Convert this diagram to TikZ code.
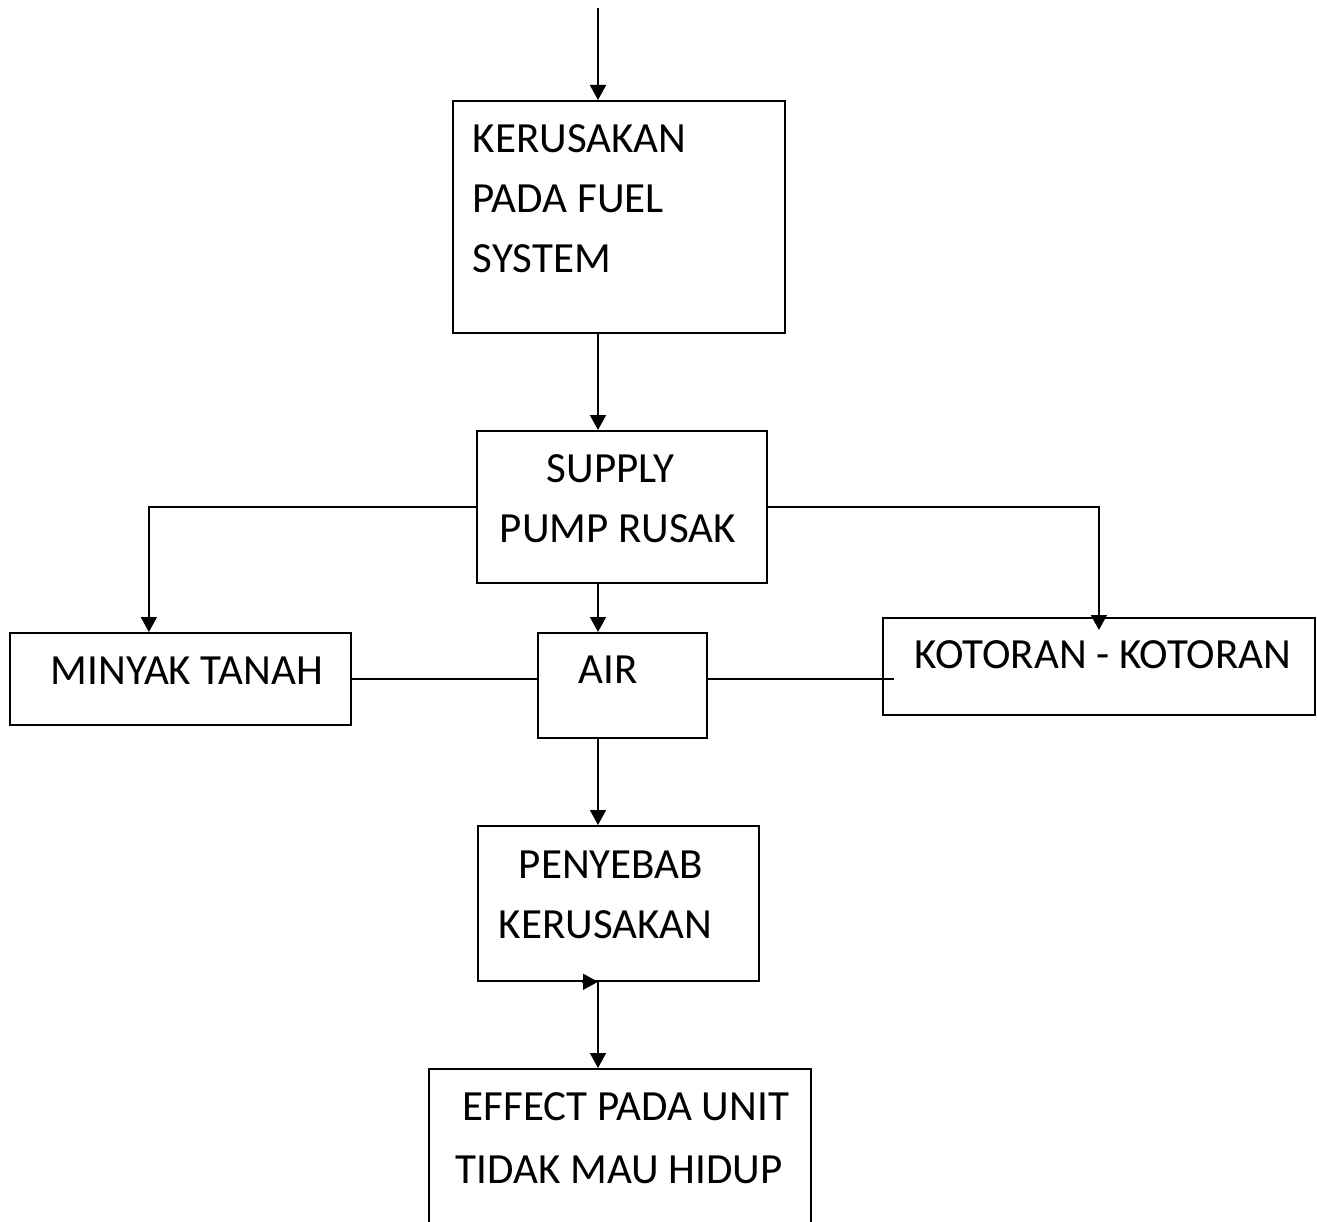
\documentclass[tikz,border=0pt]{standalone}
\usepackage{fontspec}
\setmainfont{Carlito}
\usetikzlibrary{arrows.meta}

\begin{document}
\begin{tikzpicture}[
  x=1pt, y=-1pt,
  box/.style={draw, line width=1.8pt, anchor=north west, inner sep=0pt, align=left,
    font=\fontsize{43}{60}\selectfont, execute at begin node={\spaceskip=0pt\xspaceskip=0pt}},
  arrow/.style={-{Triangle[length=15pt,width=16pt]}, line width=1.8pt},
  link/.style={line width=1.8pt}
]
\clip (0,0) rectangle (1317,1222);
\coordinate (start) at (598,8);

\node[box, text width=332pt, text height=52pt, text depth=180pt] (fuel) at (452,100)
  {\hspace*{20pt}KERUSAKAN\\\hspace*{20pt}PADA FUEL\\\hspace*{20pt}SYSTEM};
\node[box, text width=290pt, text height=52pt, text depth=100pt] (supply) at (476,430)
  {\hspace*{70pt}SUPPLY\\\hspace*{23pt}PUMP RUSAK};
\node[box, text width=341pt, text height=52pt, text depth=40pt] (minyak) at (9,632)
  {\hspace*{41pt}MINYAK TANAH};
\node[box, text width=169pt, text height=51pt, text depth=54pt] (air) at (537,632)
  {\hspace*{41pt}AIR};
\node[box, text width=432pt, text height=51pt, text depth=46pt] (kotoran) at (882,617)
  {\hspace*{32pt}KOTORAN - KOTORAN};
\node[box, text width=281pt, text height=53pt, text depth=102pt] (penyebab) at (477,825)
  {\hspace*{41pt}PENYEBAB\\\hspace*{21pt}KERUSAKAN};
\node[box, text width=382pt, text height=52pt, text depth=123pt] (effect) at (428,1068)
  {\hspace*{34pt}EFFECT PADA UNIT\\[3pt]\hspace*{27pt}TIDAK MAU HIDUP};

% arrows down the middle
\draw[arrow] (start) -- (fuel.north -| start);
\draw[arrow] (fuel.south -| start) -- (supply.north -| start);
\draw[arrow] (supply.south -| start) -- (air.north -| start);
\draw[arrow] (air.south -| start) -- (penyebab.north -| start);
\coordinate (joint) at (penyebab.south -| start);
\draw[arrow] ([xshift=-16pt]joint) -- (joint);
\draw[arrow] (joint) -- (effect.north -| start);

% side branches
\draw[arrow] (supply.west) -| ([xshift=-31.5pt]minyak.north);
\draw[arrow] (supply.east) -| ([yshift=-13pt]kotoran.north);
\draw[link] (minyak.east) -- (minyak.east -| air.west);
\draw[link] (air.east |- minyak.east) -- ([xshift=12pt]kotoran.west |- minyak.east);
\end{tikzpicture}
\end{document}
